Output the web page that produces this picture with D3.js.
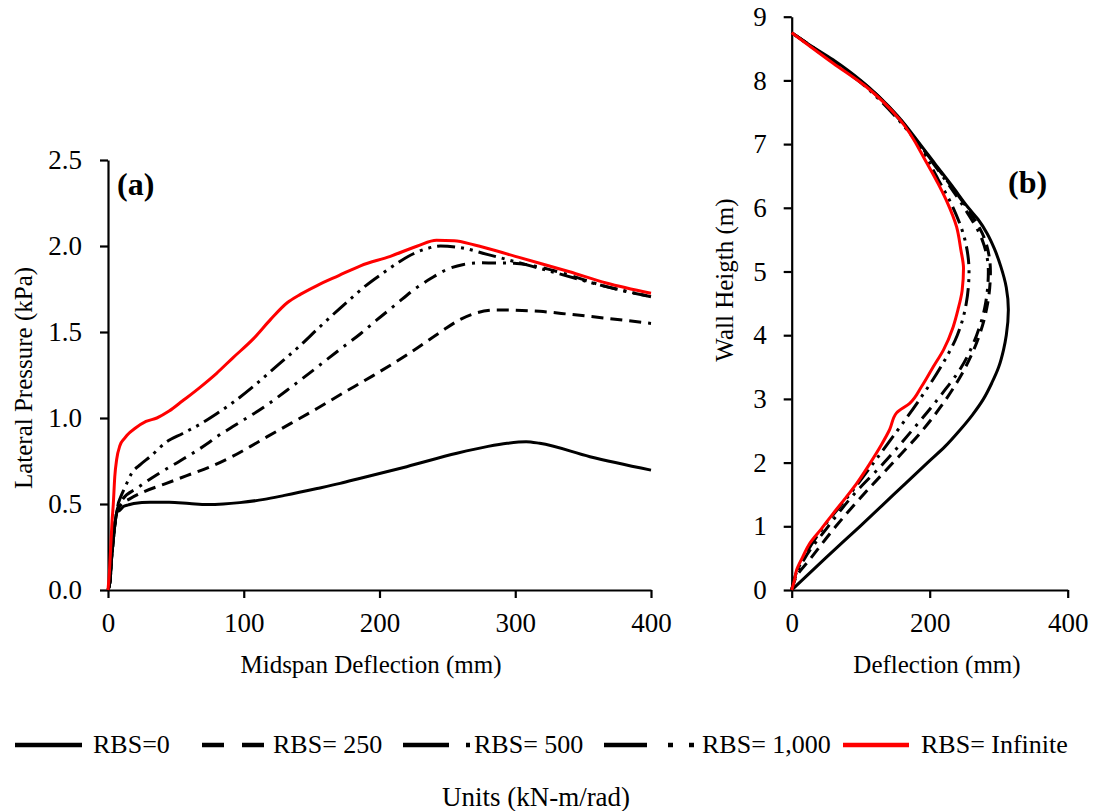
<!DOCTYPE html>
<html>
<head>
<meta charset="utf-8">
<script src="https://cdn.jsdelivr.net/npm/d3@7"></script>
<style>
  html, body { margin: 0; padding: 0; background: #fff; }
  svg { display: block; }
</style>
</head>
<body>
<svg id="chart" width="1093" height="811"></svg>
<script>
// ---- Series labels (rotational bracing stiffness, kN-m/rad) ----
const seriesNames = ["RBS=0", "RBS= 250", "RBS= 500", "RBS= 1,000", "RBS= Infinite"];

// ---- Panel (a): midspan deflection (mm) vs lateral pressure (kPa) ----
const aRBS0 = [[0,0],[1.5,0.05],[2.7,0.19],[4,0.3],[5.2,0.39],[6.4,0.45],[7.2,0.48],[8,0.46],[9.5,0.47],[11.3,0.485],[15,0.495],[19,0.503],[31,0.51],[45,0.51],[60,0.503],[73,0.497],[85,0.5],[97,0.508],[115,0.527],[130,0.55],[154,0.59],[171,0.62],[186,0.65],[220,0.717],[257,0.795],[280,0.835],[294,0.853],[308,0.862],[318,0.853],[355,0.775],[400,0.697]];
const aRBS250 = [[0,0],[1.5,0.05],[2.7,0.19],[4,0.3],[5.2,0.39],[6.4,0.45],[8,0.48],[10,0.5],[16,0.53],[26,0.57],[43,0.62],[58,0.665],[75,0.715],[92,0.778],[105,0.835],[117,0.89],[135,0.97],[154,1.055],[171,1.135],[195,1.245],[220,1.366],[245,1.5],[260,1.575],[272,1.612],[286,1.628],[305,1.625],[318,1.62],[340,1.603],[367,1.58],[400,1.55]];
const aRBS500 = [[0,0],[1.5,0.05],[2.7,0.19],[4,0.3],[5.2,0.39],[6.4,0.45],[8,0.49],[11,0.53],[21,0.59],[30,0.64],[38,0.68],[53,0.75],[73,0.85],[80,0.89],[92,0.95],[117,1.075],[135,1.18],[154,1.295],[171,1.4],[186,1.49],[198,1.57],[212,1.66],[225,1.744],[238,1.812],[250,1.865],[262,1.893],[274,1.902],[299,1.9],[315,1.882],[331,1.851],[367,1.764],[400,1.705]];
const aRBS1000 = [[0,0],[1.5,0.05],[2.7,0.19],[4,0.3],[5.2,0.39],[6.4,0.45],[7.5,0.5],[8.8,0.53],[12.7,0.6],[17.5,0.68],[24,0.73],[31,0.775],[43,0.86],[55,0.91],[68,0.965],[80,1.025],[92,1.09],[108,1.19],[124,1.3],[140,1.41],[156,1.53],[175,1.667],[190,1.77],[203,1.845],[215,1.91],[225,1.955],[235,1.985],[245,2.0],[260,1.99],[280,1.95],[318,1.87],[367,1.764],[400,1.705]];
const aRBSInf = [[0,0],[1,0.1],[2,0.25],[3,0.4],[3.9,0.5],[5,0.66],[6.4,0.76],[8.8,0.84],[12,0.88],[14,0.9],[20,0.94],[28,0.98],[36,1.0],[45,1.04],[55,1.1],[68,1.18],[80,1.26],[92,1.35],[107,1.46],[120,1.575],[132,1.67],[142,1.72],[154,1.77],[170,1.828],[186,1.885],[208,1.94],[228,2.0],[242,2.033],[255,2.03],[270,2.006],[300,1.94],[318,1.9],[340,1.85],[367,1.785],[400,1.725]];

// ---- Panel (b): deflection (mm) along wall height (m) ----
const bRBS0 = [[0,0],[49,0.5],[99,1.0],[148,1.5],[197,2.0],[222,2.25],[243,2.5],[262,2.75],[278,3.0],[290,3.25],[300,3.5],[307,3.77],[311,4.0],[314,4.4],[311,4.75],[303,5.08],[294,5.35],[283,5.6],[270,5.82],[256,6.0],[232,6.35],[207,6.7],[186,7.0],[153,7.45],[100,8.0],[63,8.3],[34,8.5],[0,8.75]];
const bRBS250 = [[0,0],[9,0.25],[24,0.45],[64,1.0],[104,1.5],[147,2.0],[189,2.5],[224,3.0],[252,3.5],[272,4.0],[284,4.5],[288,5.0],[280,5.5],[254,6.0],[227,6.4],[199,6.8],[185,7.0],[152,7.45],[99,8.0],[62,8.28],[33,8.5],[0,8.75]];
const bRBS500 = [[0,0],[7,0.25],[19,0.5],[53,1.0],[90,1.5],[134,2.0],[174,2.5],[212,3.0],[246,3.5],[268,4.0],[281,4.5],[285,5.0],[276,5.5],[250,6.0],[225,6.4],[198,6.8],[184,7.0],[151,7.45],[98,8.0],[62,8.28],[33,8.5],[0,8.75]];
const bRBS1000 = [[0,0],[6,0.25],[17,0.5],[47,1.0],[84,1.5],[119,2.0],[153,2.5],[186,3.0],[216,3.5],[240,4.0],[253,4.5],[257,5.0],[251,5.5],[234,6.0],[212,6.45],[183,7.0],[149,7.45],[96,8.0],[61,8.28],[32,8.5],[0,8.75]];
const bRBSInf = [[0,0],[4,0.15],[7,0.31],[16,0.52],[26,0.73],[43,0.96],[60,1.2],[77,1.43],[94,1.67],[113,1.98],[130,2.28],[142,2.52],[152,2.78],[171,2.93],[188,3.19],[205,3.5],[220,3.77],[234,4.13],[241,4.4],[247,4.7],[249,5.05],[245,5.35],[239,5.7],[224,6.12],[196,6.7],[157,7.38],[108,7.9],[60,8.27],[0,8.75]];

// ---- Tick values ----
const aXTicks = [0, 100, 200, 300, 400];
const aYTicks = [0, 0.5, 1.0, 1.5, 2.0, 2.5];
const bXTicks = [0, 200, 400];
const bYTicks = [0, 1, 2, 3, 4, 5, 6, 7, 8, 9];

// ---- Drawing ----
const FONT = "'Liberation Serif','Times New Roman',Times,serif";
const svg = d3.select("#chart");

const lineStyles = [
  { color: "#000", dash: null },
  { color: "#000", dash: "12,7" },
  { color: "#000", dash: "14,7,3,7" },
  { color: "#000", dash: "18,6,3,6,3,6" },
  { color: "#ff0000", dash: null }
];

const xA = d3.scaleLinear().domain([0, 400]).range([108, 651]);
const yA = d3.scaleLinear().domain([0, 2.5]).range([590, 160]);
const xB = d3.scaleLinear().domain([0, 400]).range([791.7, 1067.7]);
const yB = d3.scaleLinear().domain([0, 9]).range([590, 16.7]);

function styleAxis(g) {
  g.select(".domain").attr("stroke", "#000").attr("stroke-width", 2.2);
  g.selectAll(".tick line").attr("stroke", "#000").attr("stroke-width", 2.2);
  g.selectAll(".tick text")
    .attr("fill", "#000")
    .style("font-family", FONT)
    .style("font-size", "27px");
}

// Panel (a) axes
svg.append("g")
  .attr("transform", "translate(0,590)")
  .call(d3.axisBottom(xA).tickValues(aXTicks).tickFormat(d3.format("d"))
    .tickSize(8).tickSizeOuter(0).tickPadding(15))
  .call(styleAxis);
svg.append("g")
  .attr("transform", "translate(108,0)")
  .call(d3.axisLeft(yA).tickValues(aYTicks).tickFormat(d3.format(".1f"))
    .tickSize(8).tickSizeOuter(0).tickPadding(18))
  .call(styleAxis);

// Panel (b) axes
svg.append("g")
  .attr("transform", "translate(0,590)")
  .call(d3.axisBottom(xB).tickValues(bXTicks).tickFormat(d3.format("d"))
    .tickSize(8).tickSizeOuter(0).tickPadding(15))
  .call(styleAxis);
svg.append("g")
  .attr("transform", "translate(791.7,0)")
  .call(d3.axisLeft(yB).tickValues(bYTicks).tickFormat(d3.format("d"))
    .tickSize(8).tickSizeOuter(0).tickPadding(17))
  .call(styleAxis);

// Curves
const lineA = d3.line().x(d => xA(d[0])).y(d => yA(d[1])).curve(d3.curveMonotoneX);
const lineB = d3.line().x(d => xB(d[0])).y(d => yB(d[1])).curve(d3.curveMonotoneY);

const seriesA = [aRBS0, aRBS250, aRBS500, aRBS1000, aRBSInf];
const seriesB = [bRBS0, bRBS250, bRBS500, bRBS1000, bRBSInf];

function drawSeries(list, gen) {
  list.forEach((data, i) => {
    const st = lineStyles[i];
    svg.append("path")
      .datum(data)
      .attr("d", gen)
      .attr("fill", "none")
      .attr("stroke", st.color)
      .attr("stroke-width", 3)
      .attr("stroke-linejoin", "round")
      .attr("stroke-dasharray", st.dash);
  });
}
drawSeries(seriesA, lineA);
drawSeries(seriesB, lineB);

// Axis titles and panel labels
function text(x, y, str, opts = {}) {
  const t = svg.append("text")
    .attr("x", x).attr("y", y)
    .attr("text-anchor", opts.anchor || "middle")
    .style("font-family", FONT)
    .style("font-size", (opts.size || 25) + "px")
    .style("font-weight", opts.bold ? "bold" : "normal")
    .attr("fill", "#000")
    .text(str);
  if (opts.rotate) {
    t.attr("transform", `rotate(-90,${x},${y})`).attr("dominant-baseline", "central");
  }
  return t;
}
text(23, 378, "Lateral Pressure (kPa)", { rotate: true });
text(371, 673, "Midspan Deflection (mm)");
text(724, 280, "Wall Heigth (m)", { rotate: true });
text(937, 673, "Deflection (mm)");
text(117, 195, "(a)", { anchor: "start", size: 32, bold: true });
text(1008, 193, "(b)", { anchor: "start", size: 32, bold: true });

// Legend
const legendItems = [
  { x0: 15, x1: 82, dash: null, tx: 93 },
  { x0: 202, x1: 264, dash: "22,18", tx: 273 },
  { x0: 403, x1: 470, dash: "46,17,4,100", tx: 474 },
  { x0: 604, x1: 695, dash: "43,21,5,16,5,100", tx: 702 },
  { x0: 843, x1: 909, dash: null, tx: 921 }
];
legendItems.forEach((it, i) => {
  svg.append("line")
    .attr("x1", it.x0).attr("x2", it.x1)
    .attr("y1", 745).attr("y2", 745)
    .attr("stroke", lineStyles[i].color)
    .attr("stroke-width", 4.5)
    .attr("stroke-dasharray", it.dash);
  text(it.tx, 753, seriesNames[i], { anchor: "start", size: 26 });
});
text(536, 806, "Units (kN-m/rad)", { size: 27 });
</script>
</body>
</html>
